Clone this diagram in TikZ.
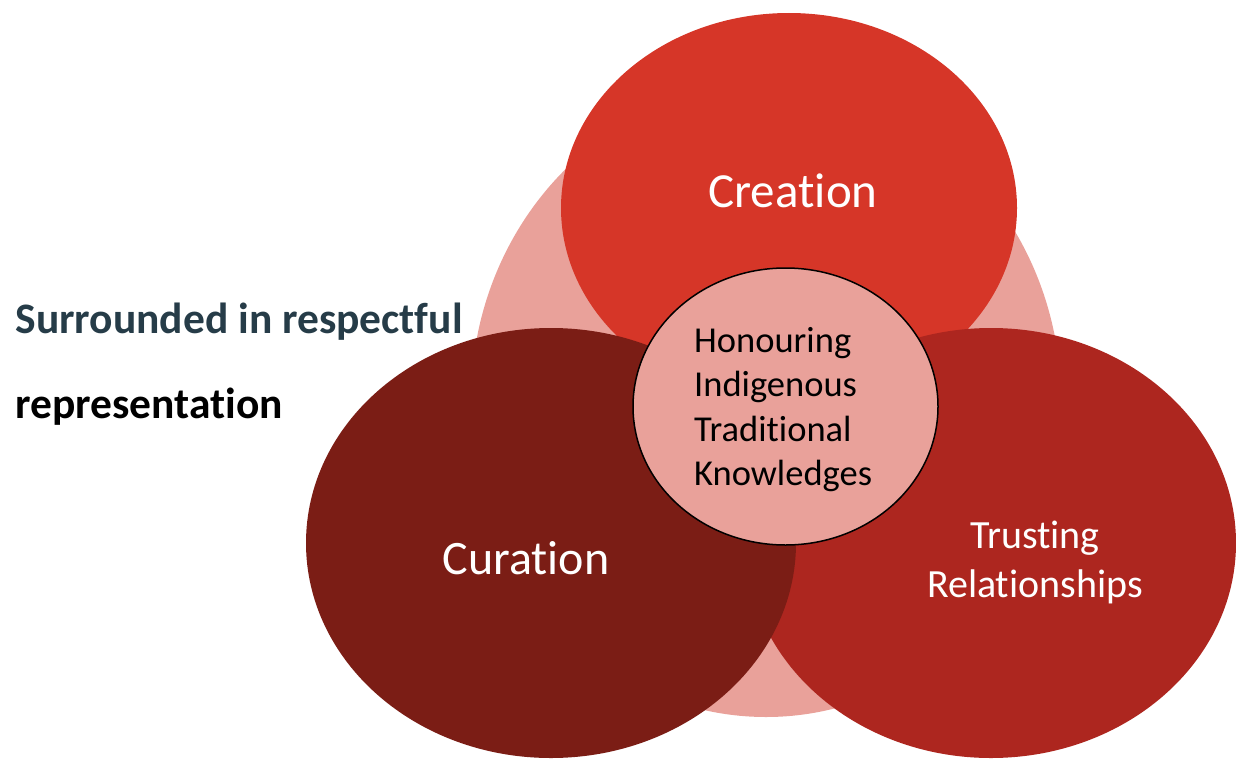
\documentclass[tikz,border=0pt]{standalone}
\usepackage{fontspec}
\setmainfont{Carlito}[RawFeature={-liga}]
\usetikzlibrary{shapes.geometric}
\definecolor{blush}{HTML}{E9A19A}
\definecolor{flame}{HTML}{D63628}
\definecolor{brick}{HTML}{AD261F}
\definecolor{maroon}{HTML}{7B1D15}
\definecolor{slate}{HTML}{263C48}
\begin{document}
\begin{tikzpicture}[x=1pt,y=-1pt,
    blob/.style={ellipse,inner sep=0pt,draw=none},
    word/.style={text=white,anchor=base,font=\fontsize{48}{56}\selectfont},
    caption/.style={anchor=base west,font=\bfseries\fontsize{43.5}{50}\selectfont}]
  \useasboundingbox (0,0) rectangle (1236,760);
  % circles, back to front
  \node[blob,fill=blush,minimum width=590,minimum height=632] (whole) at (766,401) {};
  \node[blob,fill=flame,minimum width=456,minimum height=390] (creation) at (789,208) {};
  \node[blob,fill=brick,minimum width=490,minimum height=430] (trusting) at (991,543) {};
  \node[blob,fill=maroon,minimum width=490,minimum height=430] (curation) at (551,543) {};
  \node[blob,fill=blush,draw=black,line width=1.5pt,minimum width=305,minimum height=277] (core) at (785.5,406.5) {};
  % labels
  \node[word,font=\fontsize{49}{56}\selectfont] (creationtext) at (793,207) {Creation};
  \node[word] (curationtext) at (526,574) {Curation};
  \node[word,font=\fontsize{40}{49}\selectfont,align=center,anchor=north] (trustingtext) at (1035,517) {Trusting\\Relationships};
  \node[anchor=north west,inner sep=0pt,align=left,font=\fontsize{36.5}{44.5}\selectfont] (coretext) at (694,327) {Honouring\\Indigenous\\Traditional\\Knowledges};
  \node[caption,text=slate] (surround) at (12,333) {Surrounded in respectful};
  \node[caption] (represent) at (12,418) {representation};
\end{tikzpicture}
\end{document}
